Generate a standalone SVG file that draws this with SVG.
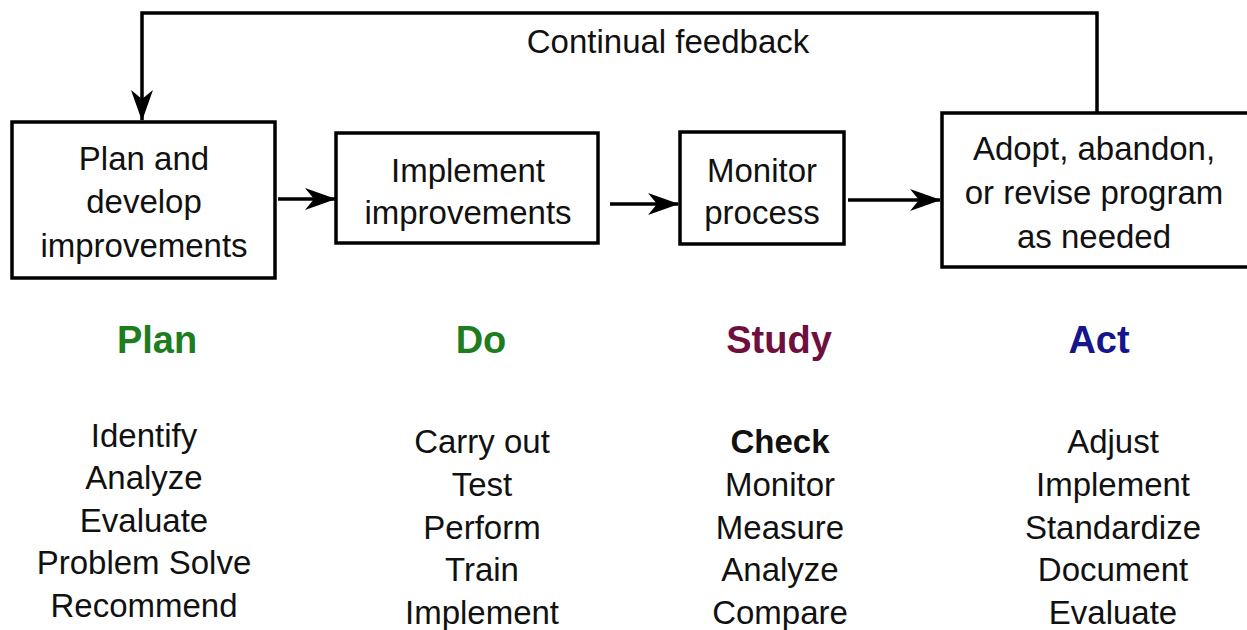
<svg xmlns="http://www.w3.org/2000/svg" width="1247" height="630" viewBox="0 0 1247 630">
<defs>
<style>
.box{fill:#fff;stroke:#000;stroke-width:3.5}
.con{fill:none;stroke:#000;stroke-width:3.5}
.t{font-family:"Liberation Sans",Arial,sans-serif;font-size:33px;fill:#111;text-anchor:middle}
.h{font-family:"Liberation Sans",Arial,sans-serif;font-size:38px;font-weight:bold;text-anchor:middle}
.b{font-weight:bold}
</style>
<marker id="ah" markerUnits="userSpaceOnUse" markerWidth="34" markerHeight="26" viewBox="-32 -13 34 26" refX="0" refY="0" orient="auto">
<path d="M1,0 L-30,-11 L-21,0 L-30,11 Z" fill="#000"/>
</marker>
</defs>
<rect width="1247" height="630" fill="#fff"/>
<g id="connectors">
<path class="con" d="M278,199 H335" marker-end="url(#ah)"/>
<path class="con" d="M610,204 H678" marker-end="url(#ah)"/>
<path class="con" d="M848,200 H940" marker-end="url(#ah)"/>
<path class="con" d="M1097,112 V13 H142 V120" marker-end="url(#ah)"/>
<text class="t" x="668" y="53">Continual feedback</text>
</g>
<g id="plan-box">
<rect class="box" x="12" y="122" width="263" height="156"/>
<text class="t" x="144" y="170">Plan and</text>
<text class="t" x="144" y="213">develop</text>
<text class="t" x="144" y="257">improvements</text>
</g>
<g id="do-box">
<rect class="box" x="336" y="133" width="262" height="110"/>
<text class="t" x="468" y="182">Implement</text>
<text class="t" x="468" y="224">improvements</text>
</g>
<g id="study-box">
<rect class="box" x="680" y="132" width="164" height="112"/>
<text class="t" x="762" y="182">Monitor</text>
<text class="t" x="762" y="224">process</text>
</g>
<g id="act-box">
<rect class="box" x="942" y="113" width="330" height="154"/>
<text class="t" x="1094" y="160">Adopt, abandon,</text>
<text class="t" x="1094" y="204">or revise program</text>
<text class="t" x="1094" y="248">as needed</text>
</g>
<g id="plan">
<text class="h" x="157" y="353" fill="#1e7d1e">Plan</text>
<text class="t" x="144" y="447">Identify</text>
<text class="t" x="144" y="489">Analyze</text>
<text class="t" x="144" y="532">Evaluate</text>
<text class="t" x="144" y="574">Problem Solve</text>
<text class="t" x="144" y="617">Recommend</text>
</g>
<g id="do">
<text class="h" x="481" y="353" fill="#1e7d1e">Do</text>
<text class="t" x="482" y="453">Carry out</text>
<text class="t" x="482" y="496">Test</text>
<text class="t" x="482" y="539">Perform</text>
<text class="t" x="482" y="581">Train</text>
<text class="t" x="482" y="624">Implement</text>
</g>
<g id="study">
<text class="h" x="779" y="353" fill="#6e0f3e">Study</text>
<text class="t b" x="780" y="453">Check</text>
<text class="t" x="780" y="496">Monitor</text>
<text class="t" x="780" y="539">Measure</text>
<text class="t" x="780" y="581">Analyze</text>
<text class="t" x="780" y="624">Compare</text>
</g>
<g id="act">
<text class="h" x="1099" y="353" fill="#15158c">Act</text>
<text class="t" x="1113" y="453">Adjust</text>
<text class="t" x="1113" y="496">Implement</text>
<text class="t" x="1113" y="539">Standardize</text>
<text class="t" x="1113" y="581">Document</text>
<text class="t" x="1113" y="624">Evaluate</text>
</g>
</svg>
